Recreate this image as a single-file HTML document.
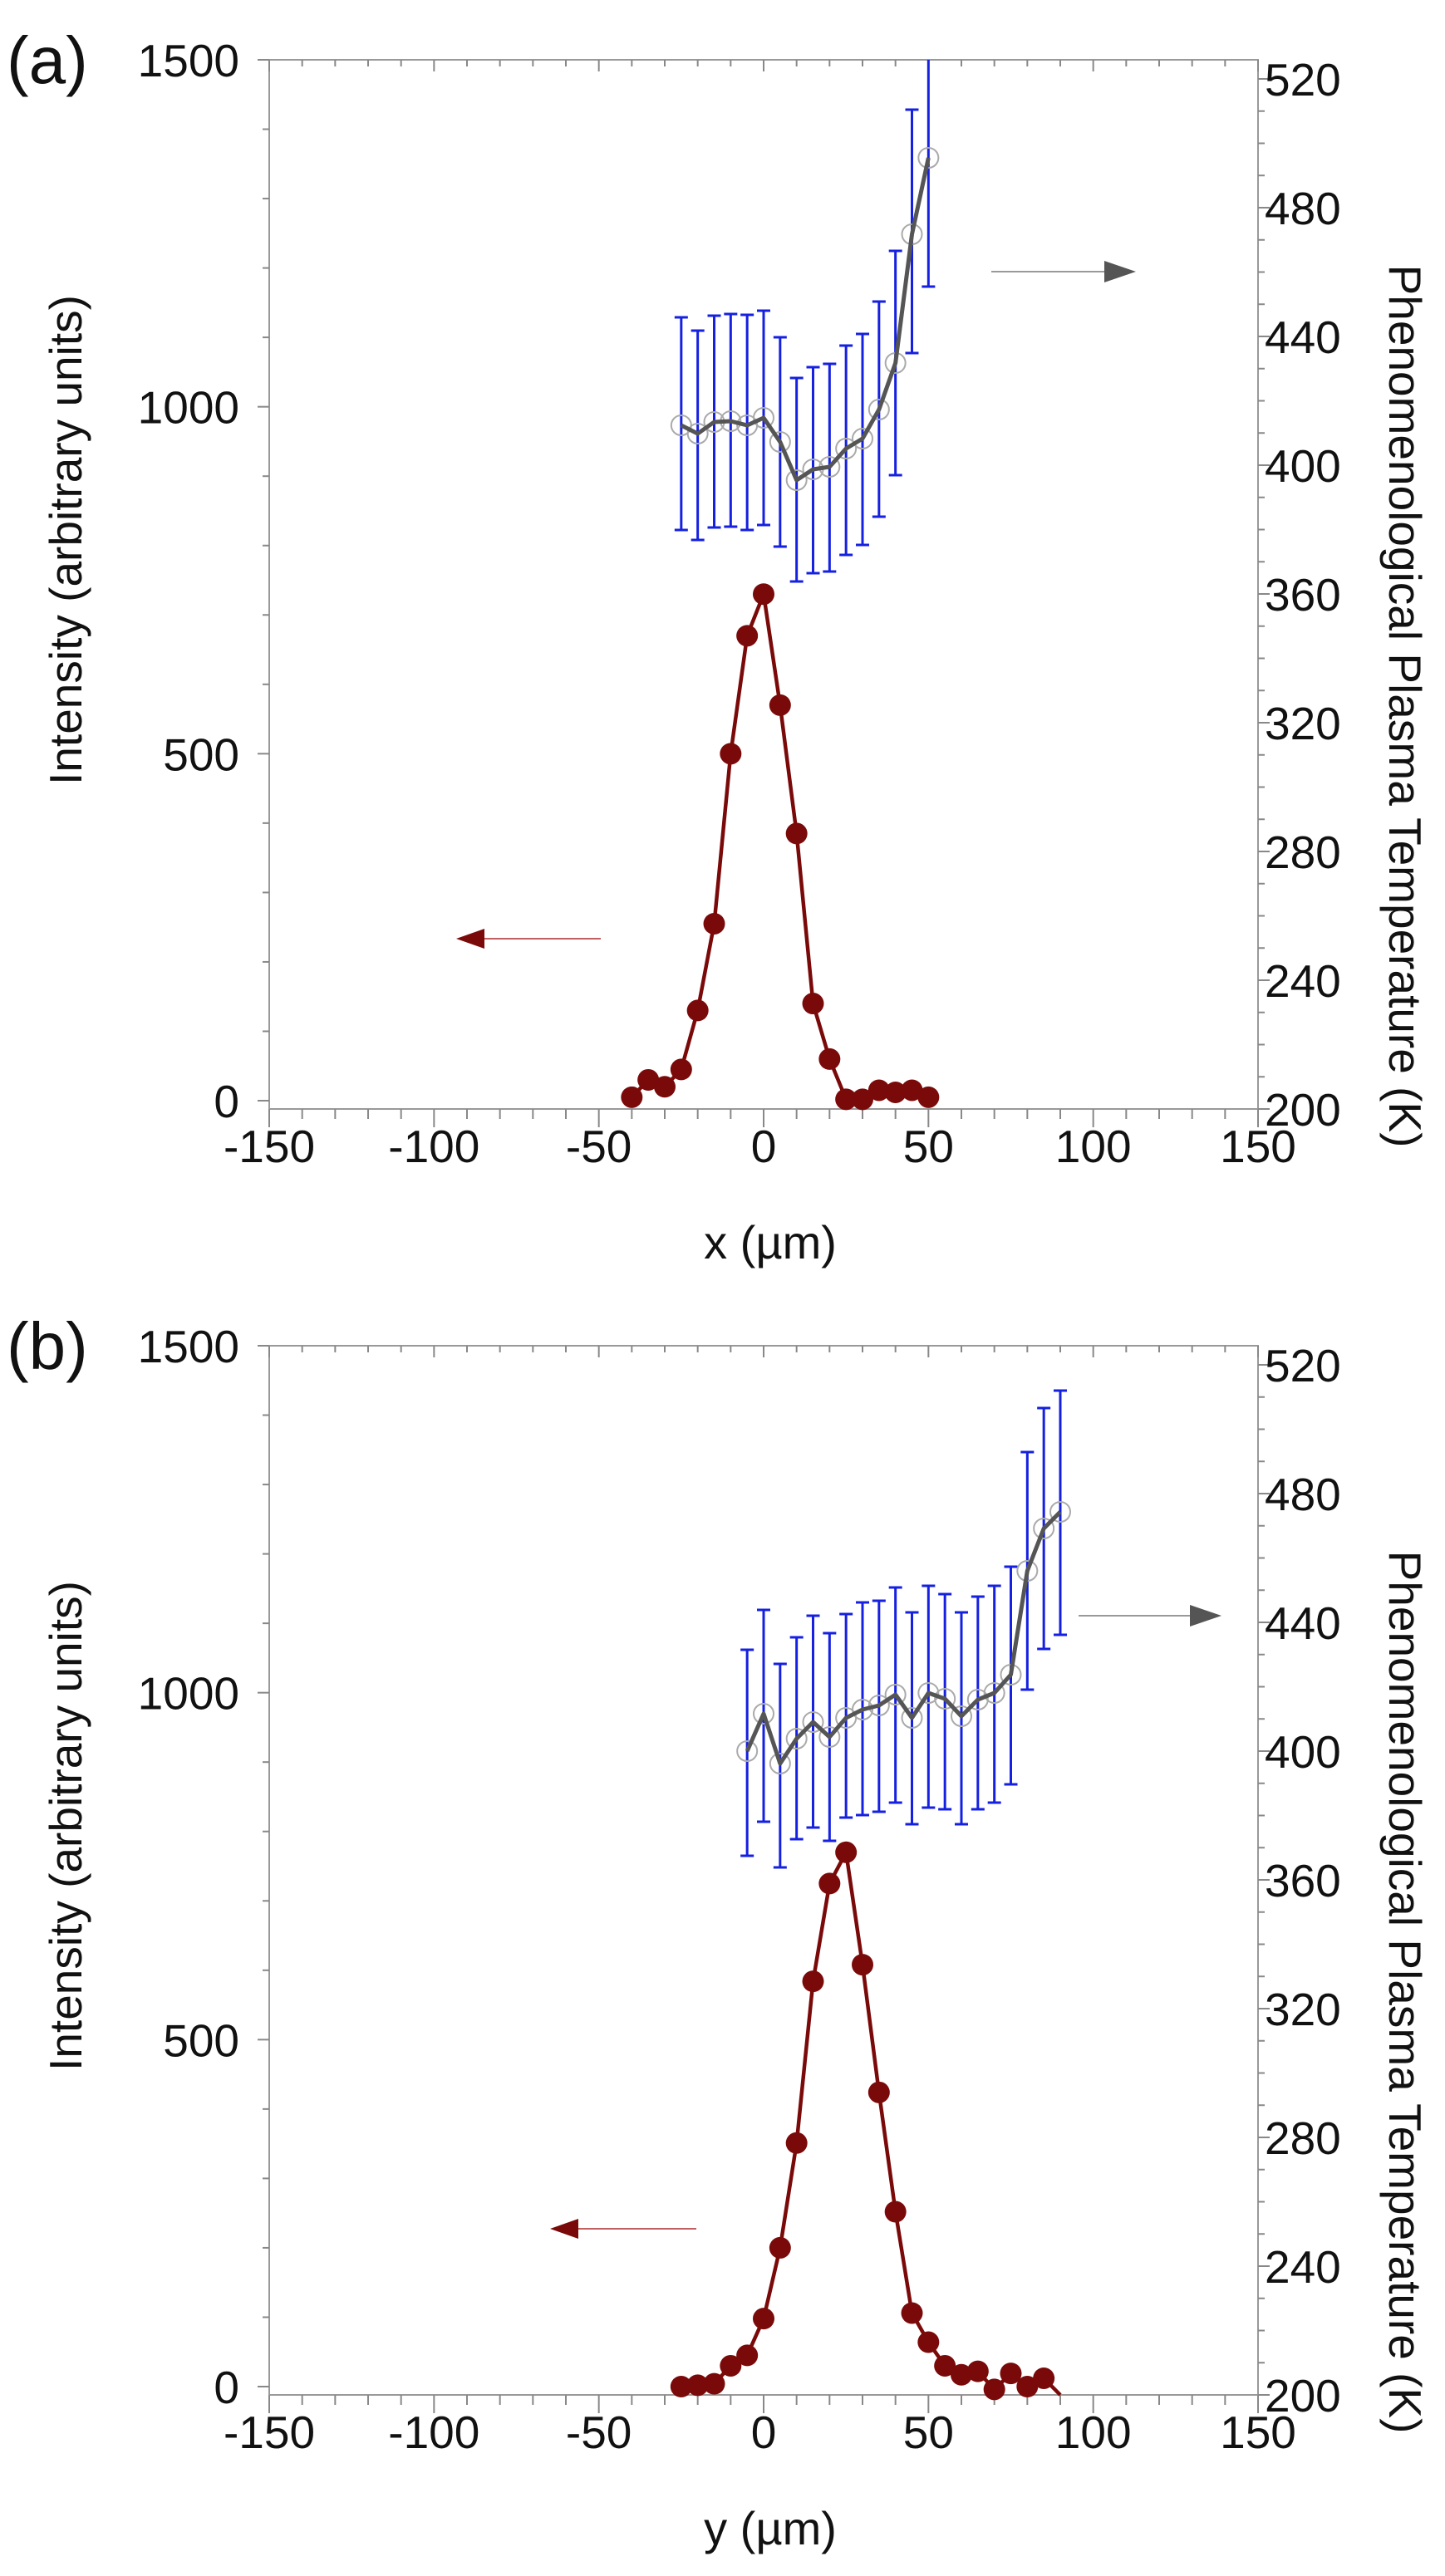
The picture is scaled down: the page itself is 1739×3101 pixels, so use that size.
<!DOCTYPE html>
<html><head><meta charset="utf-8"><style>
html,body{margin:0;padding:0;background:#fff}
svg{display:block}
text{font-family:"Liberation Sans",Arial,sans-serif;fill:#111}
</style></head><body>
<svg id="s" width="1739" height="3101" viewBox="0 0 1739 3101" xmlns="http://www.w3.org/2000/svg"></svg>
<script>
const S=document.getElementById('s');let h='';
const L=324,R=1514;
const X=x=>L+(x+150)*(R-L)/300;
function panel(off,lab,xl,I,T,E,ar){
  const top=72+off,y0=1325+off,fb=1335+off;
  const Iy=v=>y0-v*(1253/1500);
  const Ty=t=>fb-(t-200)/40*155;
  const zy=y=>y+off;
  h+=`<rect x="${L}" y="${top}" width="${R-L}" height="${fb-top}" fill="none" stroke="#999" stroke-width="2"/>`;
  for(let v=0;v<=1500;v+=100){const y=Iy(v),M=v%500==0;h+=`<line x1="${L-(M?14:8)}" x2="${L}" y1="${y}" y2="${y}" stroke="#888" stroke-width="2"/>`;if(M)h+=`<text x="${L-36}" y="${y+20}" font-size="55" text-anchor="end">${v}</text>`;}
  for(let t=200;t<=520;t+=10){const y=Ty(t),M=t%40==0;h+=`<line x1="${R}" x2="${R+(M?14:8)}" y1="${y}" y2="${y}" stroke="#888" stroke-width="2"/>`;if(M)h+=`<text x="${R+8}" y="${y+20}" font-size="55">${t}</text>`;}
  for(let x=-150;x<=150;x+=10){const px=X(x),M=x%50==0;h+=`<line x1="${px}" x2="${px}" y1="${fb}" y2="${fb+(M?22:12)}" stroke="#888" stroke-width="2"/><line x1="${px}" x2="${px}" y1="${top}" y2="${top+(M?14:8)}" stroke="#888" stroke-width="2"/>`;if(M)h+=`<text x="${px}" y="${fb+64}" font-size="55" text-anchor="middle">${x}</text>`;}
  h+=`<text x="${X(0)+8}" y="${fb+180}" font-size="56" text-anchor="middle">${xl} (µm)</text>`;
  h+=`<text x="8" y="${off+100}" font-size="80">${lab}</text>`;
  h+=`<text transform="translate(98,${off+650}) rotate(-90)" font-size="55" text-anchor="middle">Intensity (arbitrary units)</text>`;
  h+=`<text transform="translate(1672,${off+850}) rotate(90)" font-size="55" text-anchor="middle">Phenomenological Plasma Temperature (K)</text>`;
  E.forEach(([x,a,b])=>{const px=X(x);const ya=Math.max(zy(a),top);h+=`<line x1="${px}" x2="${px}" y1="${ya}" y2="${zy(b)}" stroke="#1520e0" stroke-width="3"/>`;if(a>top-off)h+=`<line x1="${px-8}" x2="${px+8}" y1="${zy(a)}" y2="${zy(a)}" stroke="#1520e0" stroke-width="3"/>`;h+=`<line x1="${px-8}" x2="${px+8}" y1="${zy(b)}" y2="${zy(b)}" stroke="#1520e0" stroke-width="3"/>`;});
  T.forEach(([x,y])=>h+=`<circle cx="${X(x)}" cy="${zy(y)}" r="12" fill="none" stroke="#aaa" stroke-width="2"/>`);
  h+=`<polyline points="${T.map(([x,y])=>X(x)+','+zy(y)).join(' ')}" fill="none" stroke="#555" stroke-width="5" stroke-linejoin="round"/>`;
  h+=`<polyline points="${I.map(([x,v])=>X(x)+','+Iy(v)).join(' ')}" fill="none" stroke="#7a0a0a" stroke-width="4.5" stroke-linejoin="round"/>`;
  I.forEach(([x,v],i)=>{if(!(ar.skipLast&&i==I.length-1))h+=`<circle cx="${X(x)}" cy="${Iy(v)}" r="13" fill="#7a0a0a"/>`;});
  const [rx1,rx2,ry]=ar.red,[gx1,gx2,gy]=ar.gray;
  h+=`<line x1="${rx1}" x2="${rx2+30}" y1="${ry+off}" y2="${ry+off}" stroke="#c06060" stroke-width="2"/><polygon points="${rx2},${ry+off} ${rx2+34},${ry+off-12} ${rx2+34},${ry+off+12}" fill="#7a0a0a"/>`;
  h+=`<line x1="${gx1}" x2="${gx2-30}" y1="${gy+off}" y2="${gy+off}" stroke="#999" stroke-width="2"/><polygon points="${gx2},${gy+off} ${gx2-38},${gy+off-13} ${gx2-38},${gy+off+13}" fill="#555"/>`;
}
const Ia=[[-40,5],[-35,30],[-30,20],[-25,45],[-20,130],[-15,255],[-10,500],[-5,670],[0,730],[5,570],[10,385],[15,140],[20,60],[25,2],[30,2],[35,15],[40,12],[45,15],[50,5]];
const Ta=[[-25,512],[-20,522],[-15,508],[-10,507],[-5,512],[0,503],[5,532],[10,578],[15,565],[20,562],[25,540],[30,528],[35,493],[40,437],[45,282],[50,190]];
const Ea=[[-25,382,638],[-20,398,650],[-15,380,635],[-10,378,634],[-5,379,638],[0,374,632],[5,406,658],[10,455,700],[15,442,690],[20,438,688],[25,416,668],[30,402,656],[35,363,622],[40,302,572],[45,132,425],[50,60,345]];
panel(0,'(a)','x',Ia,Ta,Ea,{red:[723,549,1130],gray:[1193,1367,327]});
const Ib=[[-25,0],[-20,2],[-15,4],[-10,30],[-5,45],[0,98],[5,200],[10,351],[15,584],[20,725],[25,770],[30,608],[35,424],[40,252],[45,106],[50,64],[55,30],[60,17],[65,22],[70,-4],[75,19],[80,0],[85,12],[90,-12]];
const Tb=[[-5,560],[0,515],[5,575],[10,545],[15,525],[20,543],[25,520],[30,510],[35,505],[40,492],[45,520],[50,490],[55,497],[60,518],[65,498],[70,490],[75,468],[80,343],[85,292],[90,272]];
const Eb=[[-5,438,686],[0,390,645],[5,455,700],[10,423,666],[15,397,652],[20,418,668],[25,395,640],[30,381,637],[35,379,633],[40,363,622],[45,393,648],[50,361,628],[55,371,630],[60,393,648],[65,374,630],[70,361,622],[75,338,600],[80,200,486],[85,147,437],[90,126,420]];
panel(1548,'(b)','y',Ib,Tb,Eb,{red:[838,662,1135],gray:[1298,1470,397],skipLast:true});
S.innerHTML=h;
</script>
</body></html>
